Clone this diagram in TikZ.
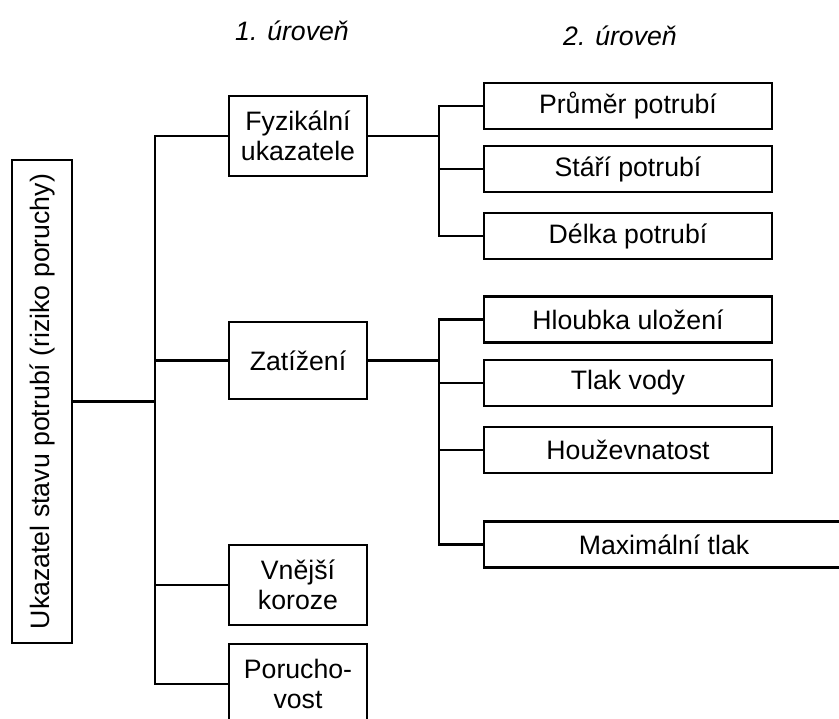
\documentclass[tikz,border=0pt]{standalone}
\usepackage{fontspec}
\setmainfont{Liberation Sans}

\tikzset{
  box/.style={draw, line width=1.7pt, align=center, font=\fontsize{20}{22.5}\selectfont, inner sep=0pt},
  rootbox/.style={box, rotate=90, minimum width=362pt, minimum height=45pt},
  lvlone/.style={box, minimum width=103.5pt, minimum height=60pt},
  lvltwo/.style={box, minimum width=216pt, minimum height=34.5pt},
  header/.style={font=\fontsize{20}{24}\selectfont\itshape, anchor=base}
}

\begin{document}
\begin{tikzpicture}[x=0.75pt, y=-0.75pt]

\clip (0,0) rectangle (839,718);

\node [header] (hone) at (292,40) {1. úroveň};
\node [header] (htwo) at (620,45) {2. úroveň};

\node [rootbox] (root) at (42,401.5) {Ukazatel stavu potrubí (riziko poruchy)};

\node [lvlone] (fyz) at (298,136) {Fyzikální\\ukazatele};
\node [lvlone, minimum height=58pt] (zat) at (298,360.5) {Zatížení};
\node [lvlone] (vnk) at (298,585) {Vnější\\koroze};
\node [lvlone] (por) at (298,684) {Porucho-\\vost};

\node [lvltwo] (pru) at (628,106) {Průměr potrubí};
\node [lvltwo] (sta) at (628,169) {Stáří potrubí};
\node [lvltwo] (del) at (628,236) {Délka potrubí};
\node [lvltwo] (hlo) at (628,319.5) {Hloubka uložení};
\node [lvltwo] (tla) at (628,383) {Tlak vody};
\node [lvltwo] (hou) at (628,450) {Houževnatost};
\node [lvltwo, minimum width=270pt] (max) at (664,544.5) {Maximální tlak};

\coordinate (trunk) at (155,401.5);
\coordinate (bone) at (439,136);
\coordinate (btwo) at (439,360.5);

\begin{scope}[line width=1.7pt]
\draw (root) -- (trunk);
\draw (fyz.west) -| (trunk);
\draw (zat.west) -| (trunk);
\draw (vnk.west) -| (trunk);
\draw (por.west) -| (trunk);

\draw (fyz.east) -- (bone);
\draw (pru.west) -| (bone);
\draw (sta.west) -| (bone);
\draw (del.west) -| (bone);

\draw (zat.east) -- (btwo);
\draw (hlo.west) -| (btwo);
\draw (tla.west) -| (btwo);
\draw (hou.west) -| (btwo);
\draw (max.west) -| (btwo);
\end{scope}

\end{tikzpicture}
\end{document}
